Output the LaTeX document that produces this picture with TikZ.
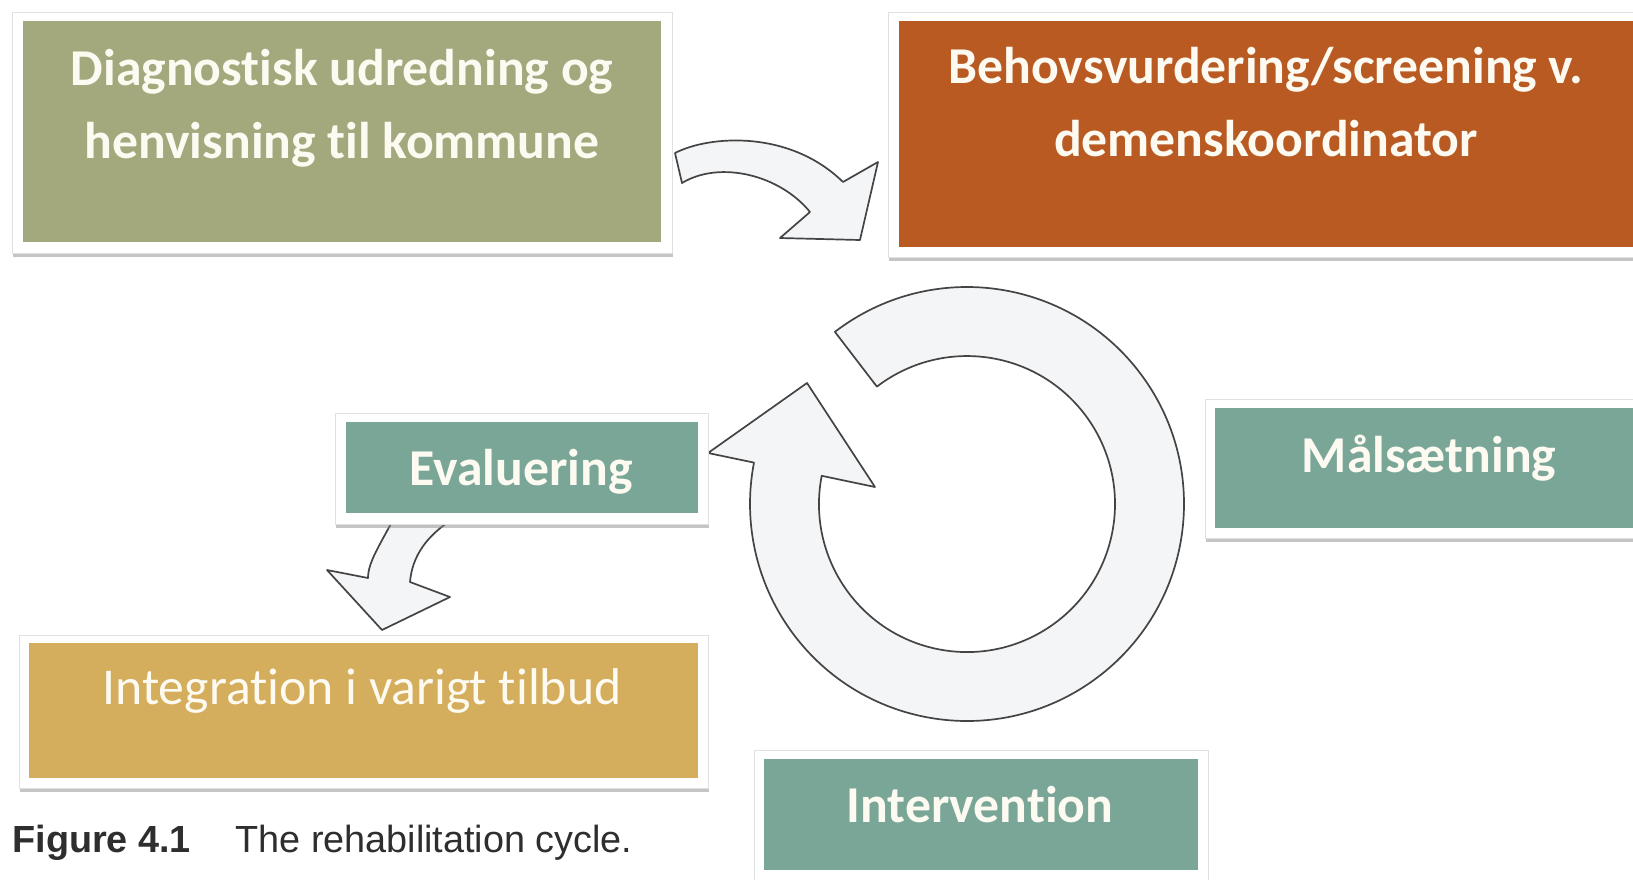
\documentclass[tikz,border=0pt]{standalone}
\usepackage{fontspec}
\setmainfont[Ligatures={NoCommon}]{Carlito}
\newfontfamily\capfont{Liberation Sans}
\usetikzlibrary{shadows,fit}
\definecolor{boxgreen}{HTML}{A3A97D}
\definecolor{boxorange}{HTML}{B95A22}
\definecolor{boxteal}{HTML}{7AA698}
\definecolor{boxgold}{HTML}{D5AE5D}
\definecolor{boxtext}{HTML}{FCFAF1}
\definecolor{arrowfill}{HTML}{F3F5F6}
\definecolor{arrowline}{HTML}{444444}
\definecolor{captext}{HTML}{2E2E2E}
\begin{document}
\begin{tikzpicture}[x=0.5pt,y=-0.5pt,
  frame/.style={fill=white, draw=black!12, line width=0.4pt, inner sep=0pt,
    drop shadow={opacity=0.45, shadow xshift=0.4pt, shadow yshift=-2pt}},
  card/.style={inner sep=0pt, fill=#1},
  lbl/.style={text=boxtext, font=\fontsize{25.85pt}{30pt}\selectfont\bfseries, anchor=base, inner sep=0pt},
  lblreg/.style={text=boxtext, font=\fontsize{25.85pt}{30pt}\selectfont, anchor=base, inner sep=0pt},
  captxt/.style={text=captext, font=\capfont\fontsize{18.9pt}{22pt}\selectfont, anchor=base west, inner sep=0pt},
  blockarrow/.style={fill=arrowfill, draw=arrowline, line width=0.85pt, line join=round}
]
\clip (0,0) rectangle (1633,879);
\fill[white] (0,0) rectangle (1633,879);

% block arrows (drawn first, boxes overlap them)
\draw[blockarrow] (675,153) .. controls (710,135) and (790,130) .. (843,182)
  -- (878,162) -- (860,240) -- (780,238) -- (810,212)
  .. controls (780,175) and (720,160) .. (682,183) -- cycle;

\draw[blockarrow] (395,516) .. controls (380,545) and (368,562) .. (368,578)
  -- (327,570) -- (382,630) -- (450,597) -- (410,582)
  .. controls (412,558) and (425,535) .. (458,516) -- cycle;

\draw[blockarrow] (967,504) ++(232.5:217) arc[start angle=232.5, end angle=551, radius=217]
  -- (708,453) -- (807,383) -- (875,487) -- (821.7,475.8)
  arc[start angle=551, end angle=232.5, radius=148] -- cycle;

% boxes
\node[frame, fit={(12,12) (672,253)}] (diagf) {};
\node[card=boxgreen, fit={(23,21) (661,242)}] (diag) {};
\node[frame, fit={(888,12) (1660,257)}] (behovf) {};
\node[card=boxorange, fit={(899,21) (1650,247)}] (behov) {};
\node[frame, fit={(335,413) (708,524)}] (evalf) {};
\node[card=boxteal, fit={(346,422) (698,513)}] (eval) {};
\node[frame, fit={(1205,399) (1660,538)}] (maalf) {};
\node[card=boxteal, fit={(1215,408) (1650,528)}] (maal) {};
\node[frame, fit={(19,635) (708,788)}] (integf) {};
\node[card=boxgold, fit={(29,643) (698,778)}] (integ) {};
\node[frame, fit={(754,750) (1208,895)}] (intervf) {};
\node[card=boxteal, fit={(764,759) (1198,870)}] (interv) {};

% labels
\node[lbl] (t1a) at (342,85) {Diagnostisk udredning og};
\node[lbl] (t1b) at (342,158) {henvisning til kommune};
\node[lbl] (t2a) at (1266,83) {Behovsvurdering/screening v.};
\node[lbl] (t2b) at (1266,156) {demenskoordinator};
\node[lbl] (t3) at (521,485) {Evaluering};
\node[lbl] (t4) at (1429,472) {Målsætning};
\node[lbl] (t5) at (980,822) {Intervention};
\node[lblreg] (t6) at (362,704) {Integration i varigt tilbud};

% caption
\node[captxt] (capa) at (12,852) {\bfseries Figure 4.1};
\node[captxt] (capb) at (235,852) {The rehabilitation cycle.};
\end{tikzpicture}
\end{document}
